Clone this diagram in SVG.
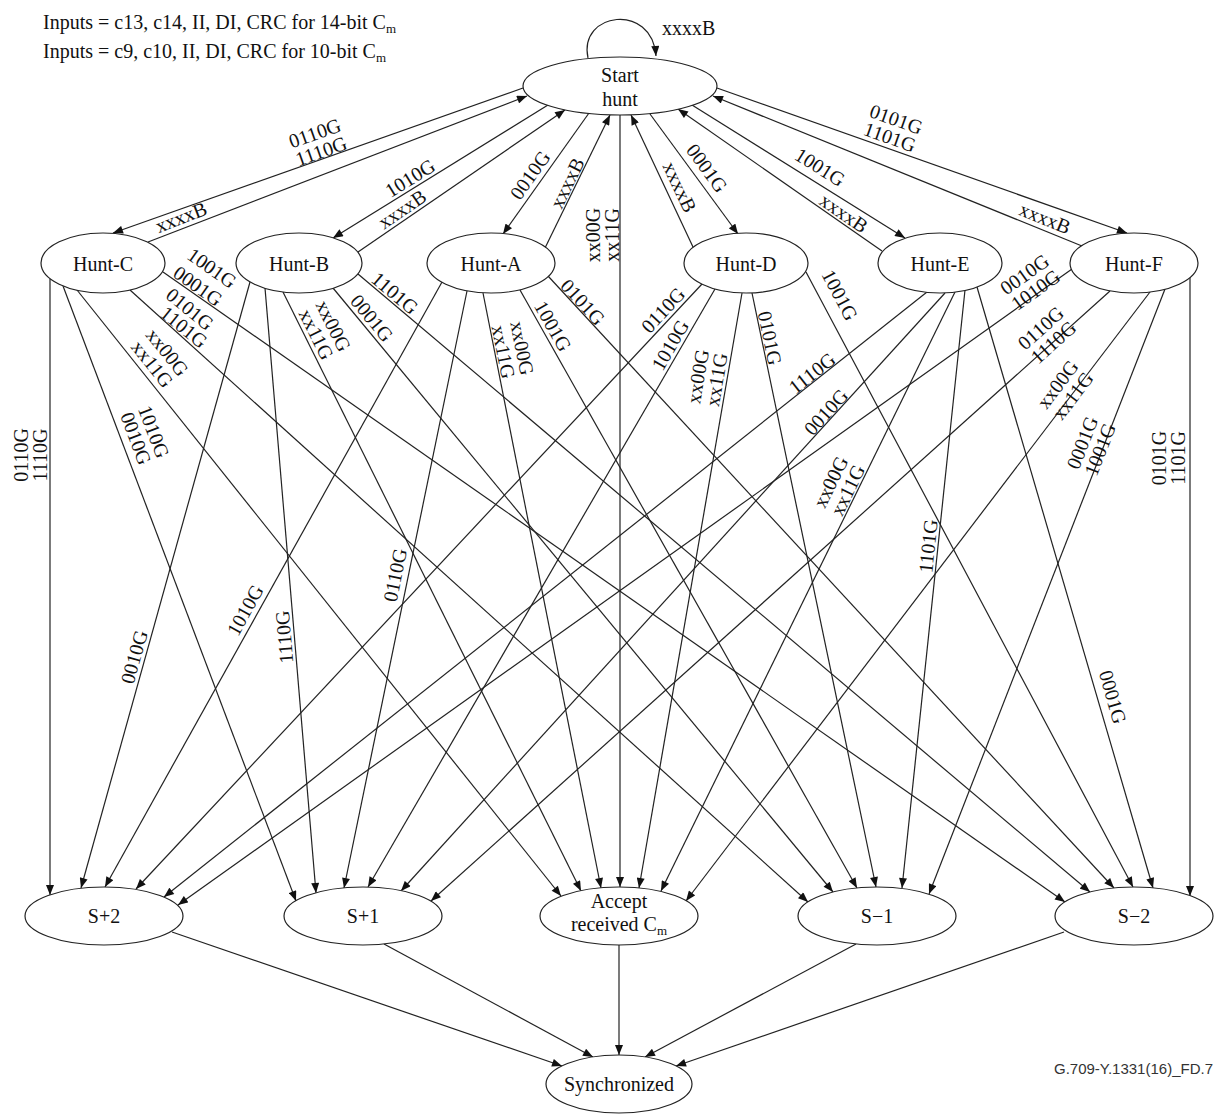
<svg xmlns="http://www.w3.org/2000/svg" width="1215" height="1114" viewBox="0 0 1215 1114">
<defs>
<marker id="ah" viewBox="0 0 10 8" refX="10" refY="4" markerWidth="11" markerHeight="8" markerUnits="userSpaceOnUse" orient="auto"><path d="M0,0 L10,4 L0,8 z" fill="#111"/></marker>
<style>
.e{stroke:#222;stroke-width:1.2;fill:none;marker-end:url(#ah)}
.n{fill:#fff;stroke:#222;stroke-width:1.2}
.t{font-family:"Liberation Serif","Times New Roman",serif;font-size:20px;fill:#111;text-anchor:middle}
.lb{font-family:"Liberation Serif","Times New Roman",serif;font-size:20px;fill:#111;text-anchor:middle}
.hd{font-family:"Liberation Serif","Times New Roman",serif;font-size:20px;fill:#111}
.ft{font-family:"Liberation Sans",Arial,sans-serif;font-size:15px;fill:#333;text-anchor:end}
</style>
</defs>
<rect width="1215" height="1114" fill="#fff"/>
<text class="hd" x="43" y="29">Inputs = c13, c14, II, DI, CRC for 14-bit C<tspan font-size="13" dy="4">m</tspan></text>
<text class="hd" x="43" y="58">Inputs = c9, c10, II, DI, CRC for 10-bit C<tspan font-size="13" dy="4">m</tspan></text>
<text class="ft" x="1213" y="1074">G.709-Y.1331(16)_FD.7</text>
<g id="connectors">
<path class="e" d="M588,58 C578,12 652,2 656,56"/>
<line class="e" x1="523" y1="88" x2="113" y2="233"/>
<line class="e" x1="148" y1="242" x2="527" y2="96"/>
<line class="e" x1="548" y1="105" x2="333" y2="238"/>
<line class="e" x1="358" y1="252" x2="565" y2="110"/>
<line class="e" x1="589" y1="113" x2="503" y2="234"/>
<line class="e" x1="545" y1="248" x2="610" y2="115"/>
<line class="e" x1="620" y1="115" x2="620" y2="887"/>
<line class="e" x1="693" y1="247" x2="631" y2="115"/>
<line class="e" x1="650" y1="114" x2="738" y2="234"/>
<line class="e" x1="692" y1="105" x2="905" y2="238"/>
<line class="e" x1="882" y1="251" x2="678" y2="109"/>
<line class="e" x1="717" y1="88" x2="1127" y2="233"/>
<line class="e" x1="1082" y1="246" x2="713" y2="96"/>
<line class="e" x1="50" y1="279" x2="50" y2="895"/>
<line class="e" x1="63" y1="286" x2="296" y2="901"/>
<line class="e" x1="77" y1="290" x2="561" y2="896"/>
<line class="e" x1="130" y1="290" x2="808" y2="902"/>
<line class="e" x1="163" y1="272" x2="1065" y2="902"/>
<line class="e" x1="250" y1="282" x2="81" y2="888"/>
<line class="e" x1="265" y1="288" x2="316" y2="893"/>
<line class="e" x1="283" y1="292" x2="581" y2="891"/>
<line class="e" x1="333" y1="288" x2="833" y2="892"/>
<line class="e" x1="358" y1="274" x2="1090" y2="892"/>
<line class="e" x1="442" y1="282" x2="105" y2="887"/>
<line class="e" x1="467" y1="291" x2="344" y2="888"/>
<line class="e" x1="483" y1="293" x2="601" y2="888"/>
<line class="e" x1="520" y1="290" x2="857" y2="888"/>
<line class="e" x1="548" y1="276" x2="1114" y2="888"/>
<line class="e" x1="702" y1="284" x2="136" y2="889"/>
<line class="e" x1="715" y1="289" x2="368" y2="887"/>
<line class="e" x1="742" y1="293" x2="639" y2="888"/>
<line class="e" x1="752" y1="293" x2="876" y2="887"/>
<line class="e" x1="806" y1="272" x2="1133" y2="887"/>
<line class="e" x1="927" y1="292" x2="164" y2="897"/>
<line class="e" x1="945" y1="293" x2="401" y2="891"/>
<line class="e" x1="955" y1="292" x2="661" y2="891"/>
<line class="e" x1="965" y1="290" x2="902" y2="888"/>
<line class="e" x1="977" y1="287" x2="1153" y2="888"/>
<line class="e" x1="1072" y1="269" x2="178" y2="905"/>
<line class="e" x1="1110" y1="291" x2="431" y2="901"/>
<line class="e" x1="1150" y1="292" x2="686" y2="901"/>
<line class="e" x1="1165" y1="289" x2="929" y2="894"/>
<line class="e" x1="1190" y1="277" x2="1190" y2="896"/>
<line class="e" x1="172" y1="932" x2="562" y2="1066"/>
<line class="e" x1="384" y1="944" x2="593" y2="1057"/>
<line class="e" x1="619" y1="945" x2="619" y2="1055"/>
<line class="e" x1="856" y1="944" x2="645" y2="1057"/>
<line class="e" x1="1064" y1="932" x2="676" y2="1066"/>
</g>
<g id="edge-labels">
<text class="lb" x="662" y="35" style="text-anchor:start">xxxxB</text>
<text class="lb" transform="translate(318,142) rotate(-19.5)"><tspan x="0" y="-2.5">0110G</tspan><tspan x="0" y="16.5">1110G</tspan></text>
<text class="lb" transform="translate(181,217) rotate(-21.1)" y="7">xxxxB</text>
<text class="lb" transform="translate(410,178) rotate(-31.7)" y="7">1010G</text>
<text class="lb" transform="translate(402,209) rotate(-34.4)" y="7">xxxxB</text>
<text class="lb" transform="translate(530,175) rotate(-54.6)" y="7">0010G</text>
<text class="lb" transform="translate(567,183) rotate(-63.9)" y="7">xxxxB</text>
<text class="lb" transform="translate(602,235) rotate(-90)"><tspan x="0" y="-2.5">xx00G</tspan><tspan x="0" y="16.5">xx11G</tspan></text>
<text class="lb" transform="translate(680,187) rotate(64.8)" y="7">xxxxB</text>
<text class="lb" transform="translate(707,168) rotate(53.7)" y="7">0001G</text>
<text class="lb" transform="translate(820,167) rotate(32)" y="7">1001G</text>
<text class="lb" transform="translate(844,213) rotate(34.8)" y="7">xxxxB</text>
<text class="lb" transform="translate(893,128) rotate(19.5)"><tspan x="0" y="-2.5">0101G</tspan><tspan x="0" y="16.5">1101G</tspan></text>
<text class="lb" transform="translate(1045,218) rotate(22.1)" y="7">xxxxB</text>
<text class="lb" transform="translate(30,455) rotate(-90)"><tspan x="0" y="-2.5">0110G</tspan><tspan x="0" y="16.5">1110G</tspan></text>
<text class="lb" transform="translate(145,435) rotate(69.2)"><tspan x="0" y="-2.5">1010G</tspan><tspan x="0" y="16.5">0010G</tspan></text>
<text class="lb" transform="translate(160,358) rotate(51.4)"><tspan x="0" y="-2.5">xx00G</tspan><tspan x="0" y="16.5">xx11G</tspan></text>
<text class="lb" transform="translate(212,268) rotate(35)" y="7">1001G</text>
<text class="lb" transform="translate(198,286) rotate(35)" y="7">0001G</text>
<text class="lb" transform="translate(190,309) rotate(39)" y="7">0101G</text>
<text class="lb" transform="translate(184,327) rotate(39)" y="7">1101G</text>
<text class="lb" transform="translate(134,657) rotate(-74.4)" y="7">0010G</text>
<text class="lb" transform="translate(284,637) rotate(-94.8)" y="7">1110G</text>
<text class="lb" transform="translate(325,330) rotate(63.6)"><tspan x="0" y="-2.5">xx00G</tspan><tspan x="0" y="16.5">xx11G</tspan></text>
<text class="lb" transform="translate(372,318) rotate(50.4)" y="7">0001G</text>
<text class="lb" transform="translate(395,293) rotate(40.2)" y="7">1101G</text>
<text class="lb" transform="translate(245,610) rotate(-60.9)" y="7">1010G</text>
<text class="lb" transform="translate(395,575) rotate(-78.4)" y="7">0110G</text>
<text class="lb" transform="translate(513,350) rotate(78.8)"><tspan x="0" y="-2.5">xx00G</tspan><tspan x="0" y="16.5">xx11G</tspan></text>
<text class="lb" transform="translate(553,326) rotate(60.6)" y="7">1001G</text>
<text class="lb" transform="translate(583,302) rotate(47.2)" y="7">0101G</text>
<text class="lb" transform="translate(663,310) rotate(-46.9)" y="7">0110G</text>
<text class="lb" transform="translate(670,345) rotate(-59.9)" y="7">1010G</text>
<text class="lb" transform="translate(707,378) rotate(-80.2)"><tspan x="0" y="-2.5">xx00G</tspan><tspan x="0" y="16.5">xx11G</tspan></text>
<text class="lb" transform="translate(770,338) rotate(78.2)" y="7">0101G</text>
<text class="lb" transform="translate(840,295) rotate(62)" y="7">1001G</text>
<text class="lb" transform="translate(812,373) rotate(-38.4)" y="7">1110G</text>
<text class="lb" transform="translate(826,412) rotate(-47.7)" y="7">0010G</text>
<text class="lb" transform="translate(839,486) rotate(-63.9)"><tspan x="0" y="-2.5">xx00G</tspan><tspan x="0" y="16.5">xx11G</tspan></text>
<text class="lb" transform="translate(928,546) rotate(-84)" y="7">1101G</text>
<text class="lb" transform="translate(1113,697) rotate(73.7)" y="7">0001G</text>
<text class="lb" transform="translate(1030,282) rotate(-35.4)"><tspan x="0" y="-2.5">0010G</tspan><tspan x="0" y="16.5">1010G</tspan></text>
<text class="lb" transform="translate(1047,335) rotate(-41.9)"><tspan x="0" y="-2.5">0110G</tspan><tspan x="0" y="16.5">1110G</tspan></text>
<text class="lb" transform="translate(1065,390) rotate(-52.7)"><tspan x="0" y="-2.5">xx00G</tspan><tspan x="0" y="16.5">xx11G</tspan></text>
<text class="lb" transform="translate(1091,446) rotate(-68.7)"><tspan x="0" y="-2.5">0001G</tspan><tspan x="0" y="16.5">1001G</tspan></text>
<text class="lb" transform="translate(1168,458) rotate(-90)"><tspan x="0" y="-2.5">0101G</tspan><tspan x="0" y="16.5">1101G</tspan></text>
</g>
<g id="start-hunt"><ellipse class="n" cx="620" cy="86" rx="97" ry="29"/><text class="t" x="620" y="82">Start</text><text class="t" x="620" y="106">hunt</text></g>
<g id="hunt-c"><ellipse class="n" cx="103" cy="263" rx="62" ry="30"/><text class="t" x="103" y="271">Hunt-C</text></g>
<g id="hunt-b"><ellipse class="n" cx="299" cy="263" rx="63" ry="30"/><text class="t" x="299" y="271">Hunt-B</text></g>
<g id="hunt-a"><ellipse class="n" cx="491" cy="263" rx="64" ry="30"/><text class="t" x="491" y="271">Hunt-A</text></g>
<g id="hunt-d"><ellipse class="n" cx="746" cy="263" rx="62" ry="30"/><text class="t" x="746" y="271">Hunt-D</text></g>
<g id="hunt-e"><ellipse class="n" cx="940" cy="263" rx="62" ry="30"/><text class="t" x="940" y="271">Hunt-E</text></g>
<g id="hunt-f"><ellipse class="n" cx="1134" cy="263" rx="64" ry="30"/><text class="t" x="1134" y="271">Hunt-F</text></g>
<g id="s-plus-2"><ellipse class="n" cx="104" cy="916" rx="79" ry="29"/><text class="t" x="104" y="923">S+2</text></g>
<g id="s-plus-1"><ellipse class="n" cx="363" cy="916" rx="79" ry="29"/><text class="t" x="363" y="923">S+1</text></g>
<g id="accept"><ellipse class="n" cx="619" cy="916" rx="79" ry="29"/><text class="t" x="619" y="908">Accept</text><text class="t" x="619" y="931">received C<tspan font-size="13" dy="4">m</tspan></text></g>
<g id="s-minus-1"><ellipse class="n" cx="877" cy="916" rx="79" ry="29"/><text class="t" x="877" y="923">S−1</text></g>
<g id="s-minus-2"><ellipse class="n" cx="1134" cy="916" rx="79" ry="29"/><text class="t" x="1134" y="923">S−2</text></g>
<g id="synchronized"><ellipse class="n" cx="619" cy="1084" rx="73" ry="29"/><text class="t" x="619" y="1091">Synchronized</text></g>
</svg>
